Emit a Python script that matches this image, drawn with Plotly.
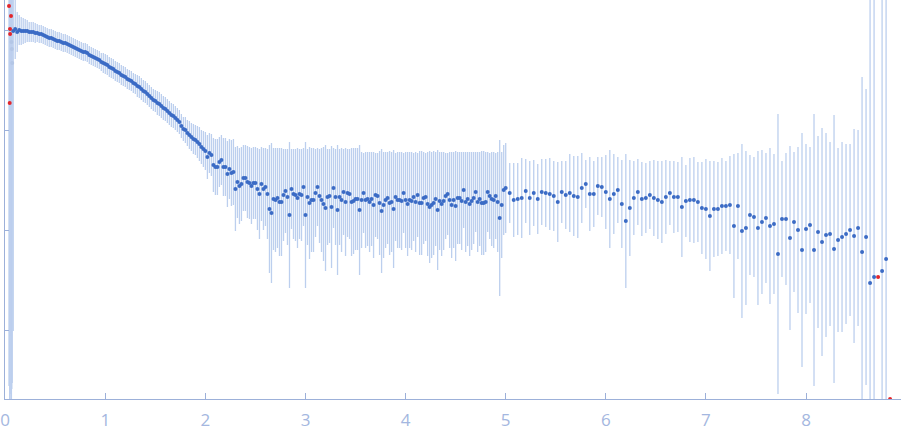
import plotly.graph_objects as go

# ---- data: log10 intensity vs q ----
q_dense = [
 0.08,0.10,0.12,0.14,0.16,0.18,0.20,0.22,0.24,0.26,
 0.28,0.30,0.32,0.34,0.36,0.38,0.40,0.42,0.44,0.46,
 0.48,0.50,0.52,0.54,0.56,0.58,0.60,0.62,0.64,0.66,
 0.68,0.70,0.72,0.74,0.76,0.78,0.80,0.82,0.84,0.86,
 0.88,0.90,0.92,0.94,0.96,0.98,1.00,1.02,1.04,1.06,
 1.08,1.10,1.12,1.14,1.16,1.18,1.20,1.22,1.24,1.26,
 1.28,1.30,1.32,1.34,1.36,1.38,1.40,1.42,1.44,1.46,
 1.48,1.50,1.52,1.54,1.56,1.58,1.60,1.62,1.64,1.66,
 1.68,1.70,1.72,1.74,
 1.76,1.78,1.80,1.82,1.84,1.86,1.88,1.90,1.92,1.94,
 1.96,1.98,2.00,2.02,2.04,2.06,2.08,2.10,2.12,2.14,
 2.16,2.18,2.20,2.22,2.24,2.26,2.28,2.30,2.32,2.34,
 2.36,2.38,2.40,2.42,2.44,2.46,2.48,2.50,2.52,2.54,
 2.56,2.58,2.60,2.62,2.64,2.66,2.68,2.70,2.72,2.74,
 2.76,2.78,2.80,2.82,2.84,2.86,2.88,2.90,2.92,2.94,
 2.96,2.98,3.00,3.02,3.04,3.06,3.08,3.10,3.12,3.14,
 3.16,3.18,3.20,3.22,3.24,3.26,3.28,3.30,3.32,3.34,
 3.36,3.38,3.40,3.42,3.44,3.46,3.48,3.50,3.52,3.54,
 3.56,3.58,3.60,3.62,3.64,3.66,3.68,3.70,3.72,3.74,
 3.76,3.78,3.80,3.82,3.84,3.86,3.88,3.90,3.92,3.94,
 3.96,3.98,4.00,4.02,4.04,4.06,4.08,4.10,4.12,4.14,
 4.16,4.18,4.20,4.22,4.24,4.26,4.28,4.30,4.32,4.34,
 4.36,4.38,4.40,4.42,4.44,4.46,4.48,4.50,4.52,4.54,
 4.56,4.58,4.60,4.62,4.64,4.66,4.68,4.70,4.72,4.74,
 4.76,4.78,4.80,4.82,4.84,4.86,4.88,4.90,4.92,4.94,
 4.96,4.98,5.00,
]
logI_dense = [
 -0.01,0.01,-0.02,0.00,-0.01,-0.01,-0.01,-0.01,-0.02,-0.02,
 -0.02,-0.03,-0.03,-0.04,-0.04,-0.05,-0.06,-0.07,-0.08,-0.08,
 -0.09,-0.10,-0.11,-0.11,-0.12,-0.13,-0.13,-0.14,-0.15,-0.16,
 -0.17,-0.18,-0.19,-0.20,-0.21,-0.22,-0.22,-0.23,-0.25,-0.26,
 -0.27,-0.28,-0.29,-0.30,-0.32,-0.33,-0.34,-0.35,-0.37,-0.38,
 -0.39,-0.41,-0.42,-0.43,-0.45,-0.46,-0.47,-0.49,-0.50,-0.51,
 -0.53,-0.54,-0.56,-0.57,-0.59,-0.61,-0.62,-0.64,-0.66,-0.68,
 -0.70,-0.71,-0.73,-0.74,-0.76,-0.78,-0.79,-0.81,-0.83,-0.85,
 -0.86,-0.88,-0.90,-0.92,
 -0.96,-0.99,-1.00,-1.03,-1.05,-1.07,-1.09,-1.10,-1.12,-1.14,
 -1.17,-1.19,-1.21,-1.27,-1.23,-1.25,-1.35,-1.37,-1.37,-1.32,
 -1.30,-1.37,-1.37,-1.44,-1.39,-1.43,-1.42,-1.59,-1.52,-1.56,
 -1.54,-1.48,-1.48,-1.52,-1.53,-1.56,-1.53,-1.53,-1.59,-1.64,
 -1.54,-1.59,-1.57,-1.64,-1.79,-1.83,-1.69,-1.70,-1.68,-1.72,
 -1.72,-1.65,-1.61,-1.67,-1.85,-1.59,-1.64,-1.65,-1.68,-1.64,
 -1.65,-1.57,-1.85,-1.67,-1.73,-1.70,-1.70,-1.63,-1.57,-1.66,
 -1.70,-1.74,-1.78,-1.67,-1.66,-1.77,-1.58,-1.67,-1.80,-1.67,
 -1.70,-1.62,-1.72,-1.63,-1.64,-1.72,-1.71,-1.69,-1.69,-1.80,
 -1.70,-1.63,-1.70,-1.69,-1.72,-1.69,-1.75,-1.65,-1.66,-1.73,
 -1.81,-1.75,-1.70,-1.68,-1.73,-1.72,-1.79,-1.67,-1.70,-1.70,
 -1.71,-1.63,-1.70,-1.74,-1.70,-1.71,-1.67,-1.72,-1.65,-1.73,
 -1.73,-1.68,-1.67,-1.74,-1.77,-1.75,-1.73,-1.69,-1.80,-1.71,
 -1.74,-1.71,-1.66,-1.64,-1.70,-1.75,-1.70,-1.76,-1.68,-1.68,
 -1.71,-1.60,-1.72,-1.69,-1.74,-1.71,-1.68,-1.62,-1.72,-1.69,
 -1.73,-1.73,-1.72,-1.62,-1.66,-1.69,-1.70,-1.66,-1.72,-1.88,
 -1.75,-1.60,-1.58,
]
err_dense = [
 3.0,0.3,0.2,0.15,0.14,0.13,0.12,0.11,0.10,0.10,
 0.10,0.10,0.09,0.09,0.09,0.09,0.09,0.09,0.09,0.09,
 0.09,0.09,0.09,0.09,0.09,0.09,0.09,0.09,0.09,0.09,
 0.09,0.09,0.09,0.09,0.09,0.09,0.09,0.09,0.09,0.09,
 0.09,0.09,0.09,0.09,0.09,0.10,0.10,0.10,0.10,0.10,
 0.10,0.10,0.10,0.10,0.10,0.10,0.10,0.10,0.10,0.10,
 0.10,0.10,0.11,0.11,0.11,0.11,0.11,0.11,0.11,0.11,
 0.11,0.11,0.12,0.12,0.12,0.12,0.12,0.12,0.12,0.12,
 0.12,0.12,0.12,0.12,
 0.12,0.12,0.13,0.13,0.14,0.14,0.15,0.15,0.16,0.17,
 0.17,0.18,0.19,0.22,0.20,0.21,0.27,0.28,0.28,0.25,
 0.25,0.29,0.29,0.33,0.30,0.33,0.33,0.42,0.36,0.38,
 0.37,0.33,0.33,0.36,0.36,0.38,0.36,0.36,0.41,0.45,
 0.37,0.41,0.39,0.45,0.64,0.70,0.51,0.52,0.50,0.54,
 0.54,0.46,0.42,0.48,0.73,0.40,0.45,0.46,0.50,0.45,
 0.46,0.39,0.73,0.48,0.56,0.52,0.52,0.44,0.39,0.47,
 0.52,0.57,0.63,0.48,0.47,0.61,0.40,0.48,0.65,0.48,
 0.52,0.43,0.54,0.44,0.45,0.54,0.53,0.51,0.51,0.65,
 0.48,0.40,0.48,0.47,0.50,0.47,0.53,0.42,0.43,0.52,
 0.62,0.53,0.48,0.46,0.52,0.50,0.59,0.44,0.48,0.48,
 0.49,0.40,0.48,0.52,0.48,0.49,0.44,0.50,0.42,0.52,
 0.52,0.46,0.44,0.52,0.56,0.53,0.52,0.47,0.60,0.49,
 0.52,0.49,0.43,0.41,0.48,0.53,0.48,0.55,0.46,0.46,
 0.49,0.38,0.50,0.47,0.52,0.49,0.46,0.40,0.50,0.47,
 0.52,0.52,0.50,0.40,0.43,0.47,0.48,0.43,0.50,0.78,
 0.53,0.45,0.45,
]

q_sparse = [
 5.04,5.08,5.12,5.16,5.20,5.24,5.28,5.32,5.36,5.40,
 5.44,5.48,5.52,5.56,5.60,5.64,5.68,5.72,5.76,5.80,
 5.84,5.88,5.92,5.96,6.00,6.04,6.08,6.12,6.16,6.20,
 6.24,6.28,6.32,6.36,6.40,6.44,6.48,6.52,6.56,6.60,
 6.64,6.68,6.72,6.76,6.80,6.84,6.88,6.92,6.96,7.00,
 7.04,7.08,7.12,7.16,7.20,7.24,7.28,7.32,7.36,7.40,
 7.44,7.48,7.52,7.56,7.60,7.64,7.68,7.72,7.76,7.80,
 7.84,7.88,7.92,7.96,8.00,8.04,8.08,8.12,8.16,8.20,
 8.24,8.28,8.32,8.36,8.40,8.44,8.48,8.52,8.56,8.60,
 8.64,8.68,8.76,8.80,
]
logI_sparse = [
 -1.63,-1.70,-1.69,-1.68,-1.61,-1.68,-1.63,-1.69,-1.62,-1.63,
 -1.64,-1.66,-1.72,-1.62,-1.65,-1.63,-1.66,-1.67,-1.58,-1.54,
 -1.64,-1.64,-1.56,-1.57,-1.62,-1.69,-1.64,-1.60,-1.74,-1.91,
 -1.78,-1.68,-1.62,-1.69,-1.68,-1.65,-1.68,-1.70,-1.72,-1.67,
 -1.63,-1.67,-1.67,-1.77,-1.71,-1.70,-1.70,-1.72,-1.78,-1.79,
 -1.86,-1.79,-1.79,-1.76,-1.76,-1.75,-1.96,-1.76,-2.01,-1.98,
 -1.85,-1.87,-1.98,-1.92,-1.88,-1.96,-1.94,-2.24,-1.89,-1.89,
 -2.08,-1.92,-2.00,-2.20,-1.99,-1.95,-2.20,-2.02,-2.12,-2.05,
 -2.04,-2.19,-2.10,-2.07,-2.04,-2.00,-2.06,-1.98,-2.22,-2.07,
 -2.53,-2.47,-2.41,-2.29,
]
err_sparse = [
 0.30,0.37,0.36,0.40,0.32,0.37,0.33,0.35,0.33,0.34,
 0.36,0.35,0.40,0.31,0.34,0.39,0.40,0.41,0.35,0.24,
 0.37,0.33,0.29,0.30,0.37,0.49,0.40,0.33,0.44,0.67,
 0.48,0.37,0.33,0.37,0.35,0.34,0.38,0.39,0.41,0.37,
 0.32,0.36,0.35,0.50,0.36,0.42,0.43,0.40,0.46,0.50,
 0.55,0.48,0.47,0.48,0.45,0.49,0.72,0.53,0.87,0.77,
 0.60,0.60,0.77,0.72,0.65,0.78,0.70,1.40,0.58,0.66,
 0.92,0.70,0.83,1.17,0.85,0.78,1.36,0.96,1.14,1.02,
 0.92,1.34,0.92,0.95,0.90,0.86,1.07,0.98,1.75,1.48,
 4.0,4.0,4.0,4.0,
]

# points flagged as outliers (drawn in red)
q_out = [0.038, 0.045, 0.048, 0.049, 0.058, 8.72, 8.84]
logI_out = [0.24, -0.73, 0.01, -0.04, 0.14, -2.47, -3.69]
err_out = [3.8, 3.0, 3.8, 3.6, 3.2, 0.0, 0.0]

# faint low-q points, almost hidden inside the wide error band
q_faint = [0.062, 0.066, 0.070]
logI_faint = [-0.12, -0.19, -0.33]
err_faint = [3.6, 3.4, 3.2]

BLUE = "#3b6bc5"
RED = "#e3262b"
BAR = "#bccfee"
FAINT = "#b3c6e6"
AXIS = "#9cb0d9"
TICKFONT = "#a4b7e0"

fig = go.Figure()

# error bars for every point, drawn first so markers sit on top
fig.add_trace(go.Scatter(
    x=q_faint + q_dense + q_sparse + q_out,
    y=logI_faint + logI_dense + logI_sparse + logI_out,
    mode="markers",
    marker=dict(size=1, color="rgba(0,0,0,0)"),
    error_y=dict(type="data", symmetric=True,
                 array=err_faint + err_dense + err_sparse + err_out,
                 color=BAR, thickness=1.3, width=0),
    hoverinfo="skip", showlegend=False,
))

fig.add_trace(go.Scatter(
    x=q_faint, y=logI_faint,
    mode="markers", marker=dict(size=4, color=FAINT),
    showlegend=False,
))

fig.add_trace(go.Scatter(
    x=q_dense + q_sparse, y=logI_dense + logI_sparse,
    mode="markers", marker=dict(size=4, color=BLUE),
    showlegend=False,
))

fig.add_trace(go.Scatter(
    x=q_out, y=logI_out,
    mode="markers", marker=dict(size=4, color=RED),
    showlegend=False,
))

fig.update_layout(
    width=901, height=437,
    margin=dict(l=5, r=0, t=0, b=38),
    plot_bgcolor="white", paper_bgcolor="white",
    font=dict(family="Open Sans", size=17, color=TICKFONT),
)
fig.update_xaxes(
    range=[-0.002, 8.949], showgrid=False, zeroline=False,
    showline=True, linecolor=AXIS, linewidth=1,
    ticks="inside", ticklen=6, tickcolor=AXIS, tickwidth=1,
    tickvals=[0, 1, 2, 3, 4, 5, 6, 7, 8],
    tickfont=dict(family="Open Sans", size=17, color=TICKFONT),
    ticklabelstandoff=6,
)
fig.update_yaxes(
    range=[-3.69, 0.30], showgrid=False, zeroline=False,
    showline=True, linecolor=AXIS, linewidth=1,
    ticks="inside", ticklen=4, tickcolor=AXIS, tickwidth=1,
    tickvals=[-3, -2, -1, 0], showticklabels=False,
)

fig.write_html("out.html", config={"displayModeBar": False},
               post_script="document.body.style.margin='0';")
